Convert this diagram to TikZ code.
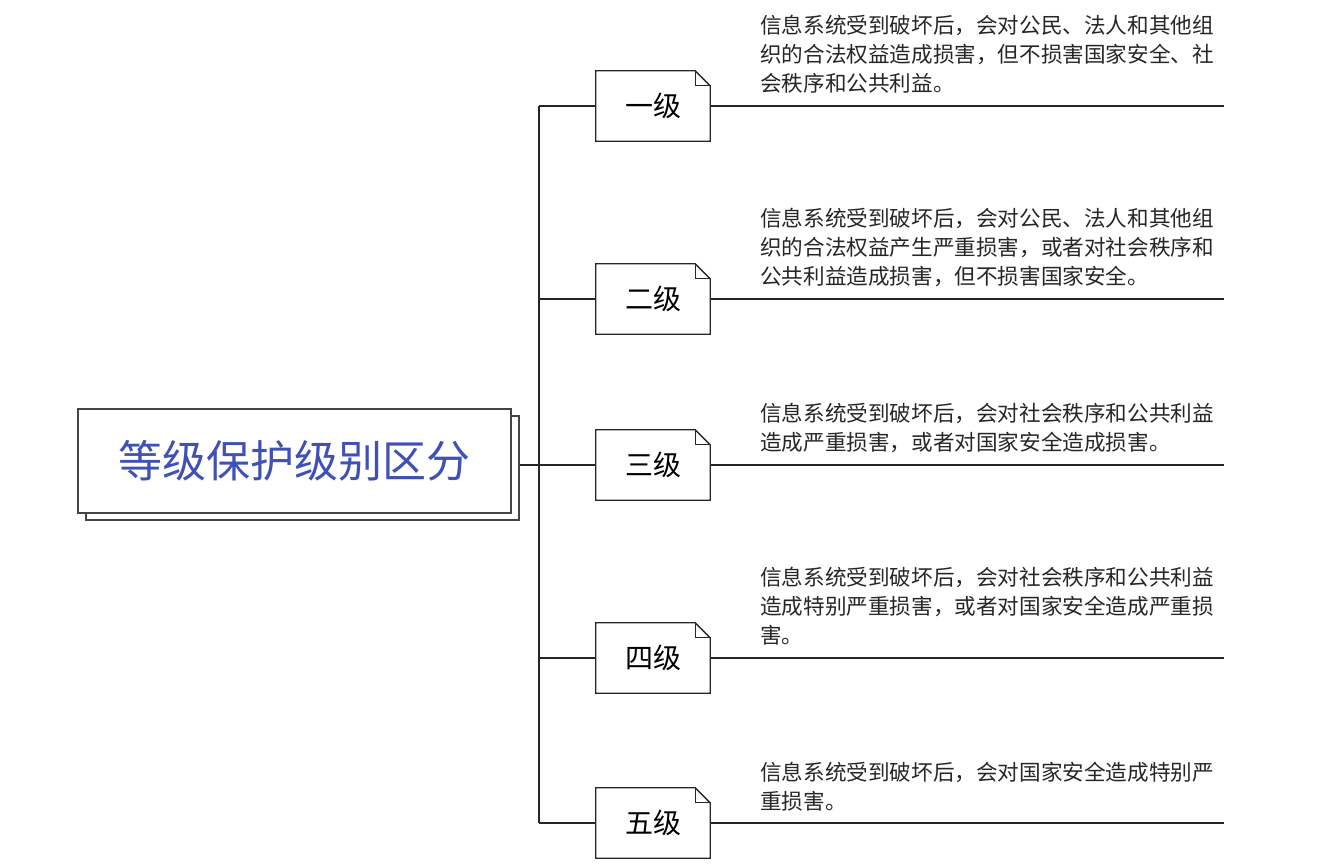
\documentclass[tikz,border=0pt]{standalone}
\usepackage{fontspec}
\newfontfamily\cjk{Noto Sans CJK SC}
\usepackage{tikz}
\usetikzlibrary{shadows}
\definecolor{titleblue}{HTML}{3F51B5}
\definecolor{framegray}{HTML}{454545}

\begin{document}
\begin{tikzpicture}[x=1pt, y=-1pt,
  titlebox/.style={draw=framegray, line width=2pt, fill=white,
    minimum width=433pt, minimum height=104pt, inner sep=0pt,
    font=\cjk\fontsize{44}{50}\selectfont, text=titleblue,
    copy shadow={shadow xshift=8pt, shadow yshift=-7pt}},
  levelbox/.style={minimum width=114pt, minimum height=70pt, inner sep=0pt,
    font=\cjk\fontsize{28}{32}\selectfont},
  desc/.style={anchor=base west, align=left, inner sep=0pt,
    font=\cjk\fontsize{21.6}{29}\selectfont, text=black!85},
  branch/.style={line width=1.3pt, black!85}]
  \useasboundingbox (0,0) rectangle (1332,863);

  %% Title box with its copy behind
  \node[titlebox] (title) at (294.5,461) {等级保护级别区分};
  \coordinate (tail) at ([xshift=8pt]title.east);
  \coordinate (fork) at (539,464);
  \coordinate (rim) at (1224,464);

  %% Level boxes with folded corner
  \foreach \id/\lab/\yy in {one/一级/106, two/二级/299, three/三级/465, four/四级/658, five/五级/823} {
    \node[levelbox] (\id) at (653,\yy) {\lab};
    \draw[branch, line join=miter]
      (\id.north west) -- ([xshift=-15pt]\id.north east) -- ([yshift=-15pt]\id.north east)
      -- (\id.south east) -- (\id.south west) -- cycle;
    \draw[branch] ([xshift=-15pt]\id.north east) |- ([yshift=-15pt]\id.north east);
    \draw[branch] (\id.west) -- (\id.west -| fork);
    \draw[branch] (\id.east) -- (\id.east -| rim);
  }

  %% Trunk
  \draw[branch] (one.west -| fork) -- (five.west -| fork);
  \draw[branch] (three.west -| fork) -- (three.west -| tail);

  %% Descriptions
  \node[desc] (d1) at (760,91) {信息系统受到破坏后，会对公民、法人和其他组\\织的合法权益造成损害，但不损害国家安全、社\\会秩序和公共利益。};
  \node[desc] (d2) at (760,284) {信息系统受到破坏后，会对公民、法人和其他组\\织的合法权益产生严重损害，或者对社会秩序和\\公共利益造成损害，但不损害国家安全。};
  \node[desc] (d3) at (760,450) {信息系统受到破坏后，会对社会秩序和公共利益\\造成严重损害，或者对国家安全造成损害。};
  \node[desc] (d4) at (760,643) {信息系统受到破坏后，会对社会秩序和公共利益\\造成特别严重损害，或者对国家安全造成严重损\\害。};
  \node[desc] (d5) at (760,809) {信息系统受到破坏后，会对国家安全造成特别严\\重损害。};
\end{tikzpicture}
\end{document}
